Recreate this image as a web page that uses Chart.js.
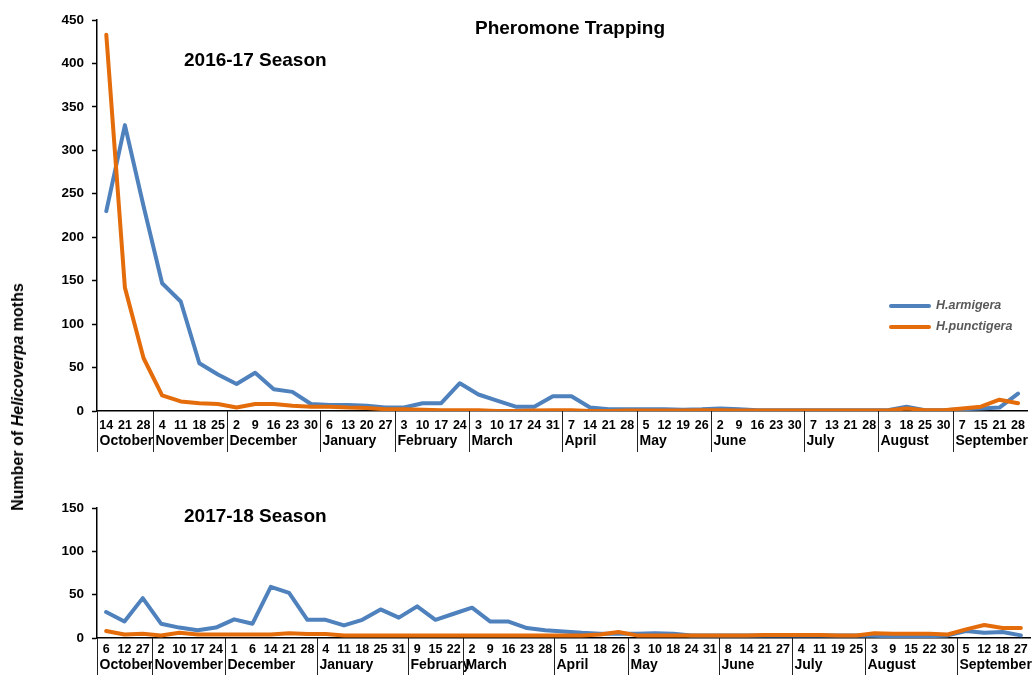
<!DOCTYPE html>
<html>
<head>
<meta charset="utf-8">
<script src="https://cdn.jsdelivr.net/npm/chart.js@4"></script>
<style>
  body { margin: 0; background: #fff; font-family: "Liberation Sans", Arial, sans-serif; }
  #wrap { position: relative; width: 1032px; height: 675px; overflow: hidden; }
  canvas { position: absolute; left: 0; }
  .txt { position: absolute; font-weight: bold; color: #000; white-space: nowrap; }
  #mainTitle { left: 570px; top: 28px; font-size: 19px; transform: translate(-50%, -50%); }
  #seasonTop { left: 184px; top: 60px; font-size: 19px; transform: translateY(-50%); }
  #seasonBot { left: 184px; top: 516px; font-size: 19px; transform: translateY(-50%); }
  #yTitle { left: 18px; top: 397px; font-size: 16px; transform: translate(-50%, -50%) rotate(-90deg); }
</style>
</head>
<body>
<div id="wrap">
  <canvas id="topChart" width="1032" height="460" style="top:0"></canvas>
  <canvas id="botChart" width="1032" height="215" style="top:460px"></canvas>
  <div class="txt" id="mainTitle">Pheromone Trapping</div>
  <div class="txt" id="seasonTop">2016-17 Season</div>
  <div class="txt" id="seasonBot">2017-18 Season</div>
  <div class="txt" id="yTitle">Number of <i>Helicoverpa</i> moths</div>
</div>
<script>
// 2016-17 シーズン
var topDays = ['14','21','28','4','11','18','25','2','9','16','23','30','6','13','20','27',
  '3','10','17','24','3','10','17','24','31','7','14','21','28','5','12','19','26',
  '2','9','16','23','30','7','13','21','28','3','18','25','30','7','15','21','28'];
var topMonths = ['October','November','December','January','February','March','April','May','June','July','August','September'];
var topMonthCounts = [3, 4, 5, 4, 4, 5, 4, 4, 5, 4, 4, 4];
var topArmigera = [230, 329, 236, 147, 126, 55, 42, 31, 44, 25, 22, 8, 7, 7, 6, 4,
  4, 9, 9, 32, 19, 12, 5, 5, 17, 17, 4, 2, 2, 2, 2, 1.5, 2,
  3, 2, 1, 1, 1, 1, 1, 1, 1, 1, 5, 1, 1, 2, 3, 4, 20];
var topPunctigera = [433, 142, 61, 18, 11, 9, 8, 4, 8, 8, 6, 5, 5, 4, 3.5, 2,
  2, 1.5, 1, 1, 1, 0, 0, 0.5, 1, 1, 0, 0, 0.5, 0.5, 0.5, 0.5, 1,
  1, 0.5, 0.5, 0.5, 0.5, 0.5, 0.5, 0.5, 0.5, 0.5, 3, 1, 1, 3, 5, 13, 9];

// 2017-18 シーズン
var botDays = ['6','12','27','2','10','17','24','1','6','14','21','28','4','11','18','25','31',
  '9','15','22','2','9','16','23','28','5','11','18','26','3','10','18','24','31',
  '8','14','21','27','4','11','19','25','3','9','15','22','30','5','12','18','27'];
var botMonths = topMonths;
var botMonthCounts = [3, 4, 5, 5, 3, 5, 4, 5, 4, 4, 5, 4];
var botArmigera = [30, 19, 46, 16.5, 12, 9, 12, 21.5, 16.5, 59, 52, 21, 21, 14.5, 21, 33, 23.5,
  36.5, 21, 28, 35, 19, 19, 11.5, 9, 7.5, 6, 5, 5, 5, 5.5, 5, 3, 3,
  3, 3, 3, 3, 3, 3, 3, 3, 2.5, 2, 2, 2, 3, 8, 6, 7, 3];
var botPunctigera = [8, 4, 5, 3, 6, 4, 4, 4, 4, 4, 5.5, 4.5, 4.5, 3, 3, 3, 3,
  3, 3, 3, 3, 3, 3, 3, 3, 3, 3, 4, 7, 3, 3, 3, 3, 3,
  3, 3, 3.5, 3.5, 3.5, 3.5, 3, 3, 5.5, 5, 5, 5, 4, 10, 15, 11.5, 11.5];

var seriesNames = ['H.armigera', 'H.punctigera'];
var blue = '#4F81BD';
var orange = '#E46C0A';
var fontFamily = '"Liberation Sans", Arial, sans-serif';

// 月ラベルと区切り線
var monthPlugin = {
  id: 'monthRow',
  afterDraw: function(chart, args, opts) {
    var ctx = chart.ctx;
    var x = chart.scales.x;
    var area = chart.chartArea;
    var half = (x.getPixelForValue(1) - x.getPixelForValue(0)) / 2;
    var idx = 0;
    ctx.save();
    ctx.strokeStyle = '#222';
    ctx.lineWidth = 1;
    ctx.fillStyle = '#000';
    ctx.font = 'bold 14px ' + fontFamily;
    ctx.textBaseline = 'middle';
    ctx.textAlign = 'left';
    for (var m = 0; m < opts.months.length; m++) {
      var left = Math.round(x.getPixelForValue(idx) - half) + 0.5;
      ctx.beginPath();
      ctx.moveTo(left, area.bottom);
      ctx.lineTo(left, area.bottom + opts.sepLen);
      ctx.stroke();
      ctx.fillText(opts.months[m], left + 2, area.bottom + opts.labelOffset);
      idx += opts.counts[m];
    }
    ctx.restore();
  }
};

// 凡例（グラフ内右側）
var legendPlugin = {
  id: 'innerLegend',
  afterDraw: function(chart, args, opts) {
    if (!opts.show) return;
    var ctx = chart.ctx;
    ctx.save();
    ctx.font = 'italic bold 12.5px ' + fontFamily;
    ctx.textBaseline = 'middle';
    ctx.lineWidth = 4;
    ctx.lineCap = 'round';
    var items = [
      { label: seriesNames[0], color: blue, y: 306 },
      { label: seriesNames[1], color: orange, y: 327 }
    ];
    items.forEach(function(it) {
      ctx.strokeStyle = it.color;
      ctx.beginPath();
      ctx.moveTo(891, it.y);
      ctx.lineTo(929, it.y);
      ctx.stroke();
      ctx.fillStyle = '#595959';
      ctx.fillText(it.label, 936, it.y);
    });
    ctx.restore();
  }
};

function makeChart(id, days, armigera, punctigera, months, counts, yMax, padTop, xHeight, sepLen, dayPad, monthOffset, showLegend) {
  var ctx = document.getElementById(id).getContext('2d');
  return new Chart(ctx, {
    type: 'line',
    data: {
      labels: days,
      datasets: [
        {
          label: seriesNames[0],
          data: armigera,
          borderColor: blue,
          borderWidth: 4,
          pointRadius: 0,
          tension: 0,
          borderJoinStyle: 'round',
          borderCapStyle: 'round',
          order: 2
        },
        {
          label: seriesNames[1],
          data: punctigera,
          borderColor: orange,
          borderWidth: 4,
          pointRadius: 0,
          tension: 0,
          borderJoinStyle: 'round',
          borderCapStyle: 'round',
          order: 1
        }
      ]
    },
    options: {
      responsive: false,
      animation: false,
      layout: { padding: { top: padTop, right: 2, left: 0, bottom: 0 } },
      scales: {
        x: {
          type: 'category',
          offset: true,
          grid: { display: false, drawTicks: false },
          border: { display: true, color: '#000', width: 1.5 },
          ticks: {
            autoSkip: false,
            maxRotation: 0,
            minRotation: 0,
            padding: dayPad,
            color: '#000',
            font: { family: fontFamily, size: 12.5, weight: 'bold' }
          },
          afterFit: function(s) { s.height = xHeight; }
        },
        y: {
          min: 0,
          max: yMax,
          grid: { drawOnChartArea: false, drawTicks: true, tickLength: 5, color: '#000', tickWidth: 1.5 },
          border: { display: true, color: '#000', width: 1.5 },
          ticks: {
            stepSize: 50,
            padding: 8,
            color: '#000',
            font: { family: fontFamily, size: 13.5, weight: 'bold' }
          },
          afterFit: function(s) { s.width = 97; }
        }
      },
      plugins: {
        legend: { display: false },
        tooltip: { enabled: false },
        monthRow: { months: months, counts: counts, sepLen: sepLen, labelOffset: monthOffset },
        innerLegend: { show: showLegend }
      }
    },
    plugins: [monthPlugin, legendPlugin]
  });
}

makeChart('topChart', topDays, topArmigera, topPunctigera, topMonths, topMonthCounts, 450, 20, 49, 41, 7, 30, true);
makeChart('botChart', botDays, botArmigera, botPunctigera, botMonths, botMonthCounts, 150, 48, 37, 37, 4, 27, false);
</script>
</body>
</html>
